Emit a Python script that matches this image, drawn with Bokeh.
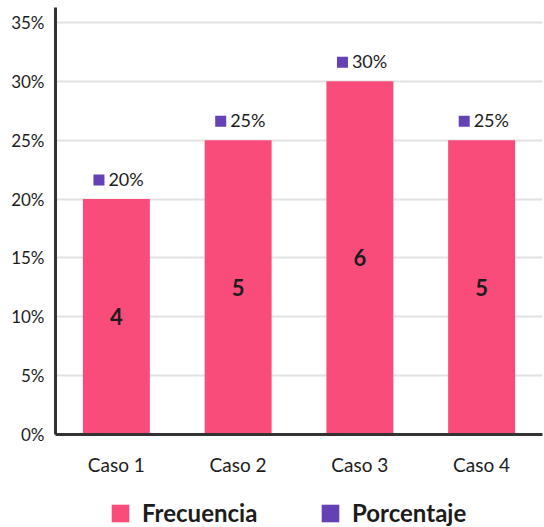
from bokeh.plotting import figure
from bokeh.layouts import column
from bokeh.models import (ColumnDataSource, FactorRange, Range1d, FixedTicker,
                          CustomJSTickFormatter, Legend, LegendItem)
from bokeh.transform import dodge
from bokeh.core.properties import value
from bokeh.embed import file_html
from bokeh.resources import INLINE

# Data
cases = ["Caso 1", "Caso 2", "Caso 3", "Caso 4"]
frequency = [4, 5, 6, 5]
percentage = [20, 25, 30, 25]
y_ticks = [0, 5, 10, 15, 20, 25, 30, 35]

PINK = "#F94C7B"
PURPLE = "#6441B5"
TEXT = "#1c1c1c"
FONT = "Lato"

Y_MAX = 36.27
PX_PER_PCT = 427 / Y_MAX  # frame height / y span, used to lift the markers

source = ColumnDataSource(dict(
    cases=cases,
    frequency=[str(f) for f in frequency],
    pct=percentage,
    pct_mid=[p / 2 for p in percentage],
    pct_label=[f"{p}%" for p in percentage],
    marker_y=[p + 19 / PX_PER_PCT for p in percentage],
))

p = figure(width=544, height=480, output_backend="svg", toolbar_location=None,
           x_range=FactorRange(*cases, range_padding=0),
           y_range=Range1d(0, Y_MAX),
           min_border_left=55, min_border_right=2,
           min_border_top=7, min_border_bottom=46)
p.outline_line_color = None
p.background_fill_color = "white"
p.border_fill_color = "white"

# Frequency bars
p.vbar(x="cases", top="pct", width=0.55, source=source,
       fill_color=PINK, line_color=None)

# Frequency count inside each bar
p.text(x="cases", y="pct_mid", text="frequency", source=source,
       text_align="center", text_baseline="middle",
       text_font=value(FONT), text_font_style="bold",
       text_font_size="22px", text_color=TEXT)

# Percentage marker and label above each bar
p.rect(x=dodge("cases", -0.143, range=p.x_range), y="marker_y",
       width=11, height=11, width_units="screen", height_units="screen",
       source=source, fill_color=PURPLE, line_color=None)
p.text(x="cases", y="marker_y", text="pct_label", source=source,
       x_offset=-8, y_offset=-1,
       text_align="left", text_baseline="middle",
       text_font=value(FONT), text_font_size="18px", text_color=TEXT)

# Axes
p.yaxis.ticker = FixedTicker(ticks=y_ticks)
p.yaxis.formatter = CustomJSTickFormatter(code="return tick + '%';")
for ax in (p.xaxis[0], p.yaxis[0]):
    ax.axis_line_color = "#333333"
    ax.axis_line_width = 3
    ax.major_tick_line_color = None
    ax.minor_tick_line_color = None
    ax.major_label_text_font = FONT
    ax.major_label_text_color = TEXT
p.yaxis.major_label_text_font_size = "17px"
p.yaxis.major_label_standoff = 5
p.xaxis.major_label_text_font_size = "19px"
p.xaxis.major_label_standoff = 12

p.xgrid.grid_line_color = None
p.ygrid.grid_line_color = "#e2e2e2"
p.ygrid.grid_line_width = 2

# Legend strip under the chart; its swatches come from the same glyph styles,
# drawn out of this strip's visible y range.
leg = figure(width=544, height=47, output_backend="svg", toolbar_location=None,
             x_range=FactorRange(*cases), y_range=Range1d(1000, 1001),
             x_axis_location=None, y_axis_location=None,
             min_border=0, min_border_left=0, min_border_right=0,
             min_border_top=0, min_border_bottom=0)
leg.outline_line_color = None
leg.xgrid.grid_line_color = None
leg.ygrid.grid_line_color = None
leg_bars = leg.vbar(x="cases", top="pct", width=0.55, source=source,
                    fill_color=PINK, line_color=None)
leg_marks = leg.rect(x="cases", y="pct", width=11, height=11,
                     width_units="screen", height_units="screen",
                     source=source, fill_color=PURPLE, line_color=None)

legend = Legend(items=[LegendItem(label="Frecuencia", renderers=[leg_bars]),
                       LegendItem(label="Porcentaje", renderers=[leg_marks])],
                orientation="horizontal", location=(54, 0),
                glyph_width=22, glyph_height=22, label_standoff=11,
                label_width=130, spacing=47,
                padding=0, margin=0, border_line_color=None,
                background_fill_alpha=0,
                label_text_font=FONT, label_text_font_style="bold",
                label_text_font_size="24px", label_text_color=TEXT)
leg.add_layout(legend, "center")

layout = column(p, leg, spacing=0)
open("out.html", "w").write(file_html(layout, INLINE))
